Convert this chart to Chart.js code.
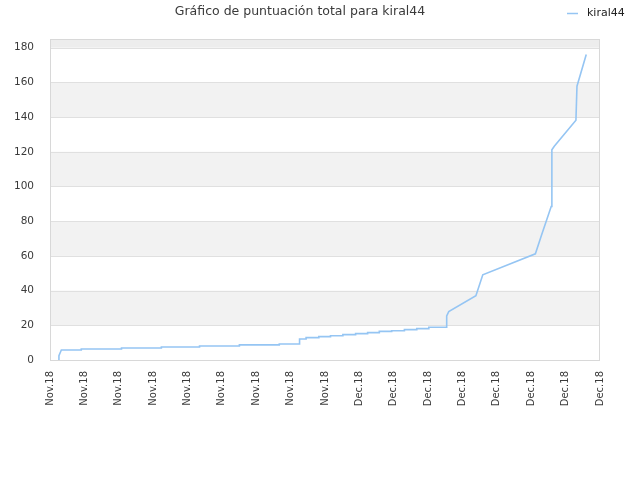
<!DOCTYPE html>
<html>
<head>
<meta charset="utf-8">
<script src="https://cdn.jsdelivr.net/npm/chart.js@4"></script>
<style>
  html, body { margin: 0; padding: 0; background: #fff; }
  #wrap { width: 640px; height: 480px; }
</style>
</head>
<body>
<div id="wrap"><canvas id="chart"></canvas></div>
<script>
// tick labels along the x axis (evenly spaced)
const xLabels = ['Nov.18', 'Nov.18', 'Nov.18', 'Nov.18', 'Nov.18', 'Nov.18', 'Nov.18', 'Nov.18', 'Nov.18',
                 'Dec.18', 'Dec.18', 'Dec.18', 'Dec.18', 'Dec.18', 'Dec.18', 'Dec.18', 'Dec.18'];
const yTicks = [0, 20, 40, 60, 80, 100, 120, 140, 160, 180];

// position along the axis (in tick units) and total score
const xPos = [0.24, 0.26, 0.33, 0.91, 0.91, 2.08, 2.08, 3.24, 3.24, 4.35, 4.35, 5.51, 5.51, 6.67, 6.67,
              7.26, 7.26, 7.45, 7.45, 7.82, 7.82, 8.16, 8.16, 8.52, 8.52, 8.89, 8.89, 9.24, 9.24,
              9.58, 9.58, 9.94, 9.94, 10.31, 10.31, 10.67, 10.67, 11.02, 11.02, 11.52, 11.54, 11.6,
              12.39, 12.59, 14.12, 14.3, 14.58, 14.6, 14.67, 15.30, 15.33, 15.6];
const scores = [0, 2.5, 5.8, 5.8, 6.35, 6.35, 6.9, 6.9, 7.5, 7.5, 8.1, 8.1, 8.7, 8.7, 9.2,
                9.2, 12.1, 12.1, 12.9, 12.9, 13.5, 13.5, 14.0, 14.0, 14.6, 14.6, 15.2, 15.2, 15.8,
                15.8, 16.5, 16.5, 16.9, 16.9, 17.5, 17.5, 18.1, 18.1, 18.9, 18.9, 25.4, 27.9,
                37.0, 49.1, 61.2, 72.0, 88.5, 121.2, 123.2, 138.2, 157.8, 176.1];

const seriesName = 'kiral44';
const yMax = 185;

const points = xPos.map((x, i) => ({ x: x, y: scores[i] }));

// alternating horizontal bands + grid lines + plot border
const bandsPlugin = {
    id: 'bands',
    beforeDatasetsDraw(chart) {
        const { ctx, chartArea, scales } = chart;
        const y = scales.y;
        const w = chartArea.right - chartArea.left;
        ctx.save();
        for (let i = 1; i < yTicks.length - 1; i += 2) {
            const top = y.getPixelForValue(yTicks[i + 1]);
            const bottom = y.getPixelForValue(yTicks[i]);
            ctx.fillStyle = '#f2f2f2';
            ctx.fillRect(chartArea.left, top, w, bottom - top);
        }
        // the strip above the last tick
        const tLast = y.getPixelForValue(yTicks[yTicks.length - 1]);
        ctx.fillStyle = '#ededed';
        ctx.fillRect(chartArea.left, chartArea.top, w, tLast - chartArea.top);
        ctx.strokeStyle = '#e0e0e0';
        ctx.lineWidth = 1;
        yTicks.slice(1).forEach((v) => {
            const p = Math.round(y.getPixelForValue(v)) + 0.5;
            ctx.beginPath();
            ctx.moveTo(chartArea.left, p);
            ctx.lineTo(chartArea.right, p);
            ctx.stroke();
        });
        ctx.strokeStyle = '#d8d8d8';
        ctx.strokeRect(chartArea.left + 0.5, chartArea.top + 0.5, w - 1, chartArea.bottom - chartArea.top);
        ctx.restore();
    }
};

// legend drawn in the title row, top right
const legendPlugin = {
    id: 'sideLegend',
    afterDraw(chart) {
        const ctx = chart.ctx;
        const ds = chart.data.datasets[0];
        ctx.save();
        ctx.strokeStyle = ds.borderColor;
        ctx.lineWidth = 1.5;
        ctx.beginPath();
        ctx.moveTo(567, 13.5);
        ctx.lineTo(578, 13.5);
        ctx.stroke();
        ctx.fillStyle = '#222';
        ctx.font = '11px "DejaVu Sans"';
        ctx.textBaseline = 'middle';
        ctx.fillText(ds.label, 587, 13);
        ctx.restore();
    }
};

new Chart(document.getElementById('chart'), {
    type: 'line',
    data: {
        datasets: [{
            label: seriesName,
            data: points,
            borderColor: '#95c5f3',
            borderWidth: 1.6,
            pointRadius: 0,
            fill: false,
            tension: 0
        }]
    },
    options: {
        responsive: true,
        maintainAspectRatio: false,
        animation: false,
        layout: { padding: { left: 0, right: 40, top: 0, bottom: 0 } },
        plugins: {
            legend: { display: false },
            tooltip: { enabled: false },
            title: {
                display: true,
                text: 'Gráfico de puntuación total para kiral44',
                color: '#3a3a3a',
                font: { family: 'DejaVu Sans', size: 12.5, weight: 'normal' },
                padding: { top: 4, bottom: 20 }
            }
        },
        scales: {
            x: {
                type: 'linear',
                min: 0,
                max: xLabels.length - 1,
                grid: { display: false },
                border: { display: false },
                ticks: {
                    stepSize: 1,
                    autoSkip: false,
                    maxRotation: 90,
                    minRotation: 90,
                    color: '#3a3a3a',
                    font: { family: 'DejaVu Sans', size: 10 },
                    callback: (v) => xLabels[v]
                },
                afterFit: (scale) => { scale.height = 120; }
            },
            y: {
                min: 0,
                max: yMax,
                grid: { display: false },
                border: { display: false },
                afterBuildTicks: (scale) => { scale.ticks = yTicks.map((v) => ({ value: v })); },
                ticks: {
                    color: '#3a3a3a',
                    font: { family: 'DejaVu Sans', size: 10.5 },
                    padding: 8
                },
                afterFit: (scale) => { scale.width = 50; }
            }
        }
    },
    plugins: [bandsPlugin, legendPlugin]
});
</script>
</body>
</html>
